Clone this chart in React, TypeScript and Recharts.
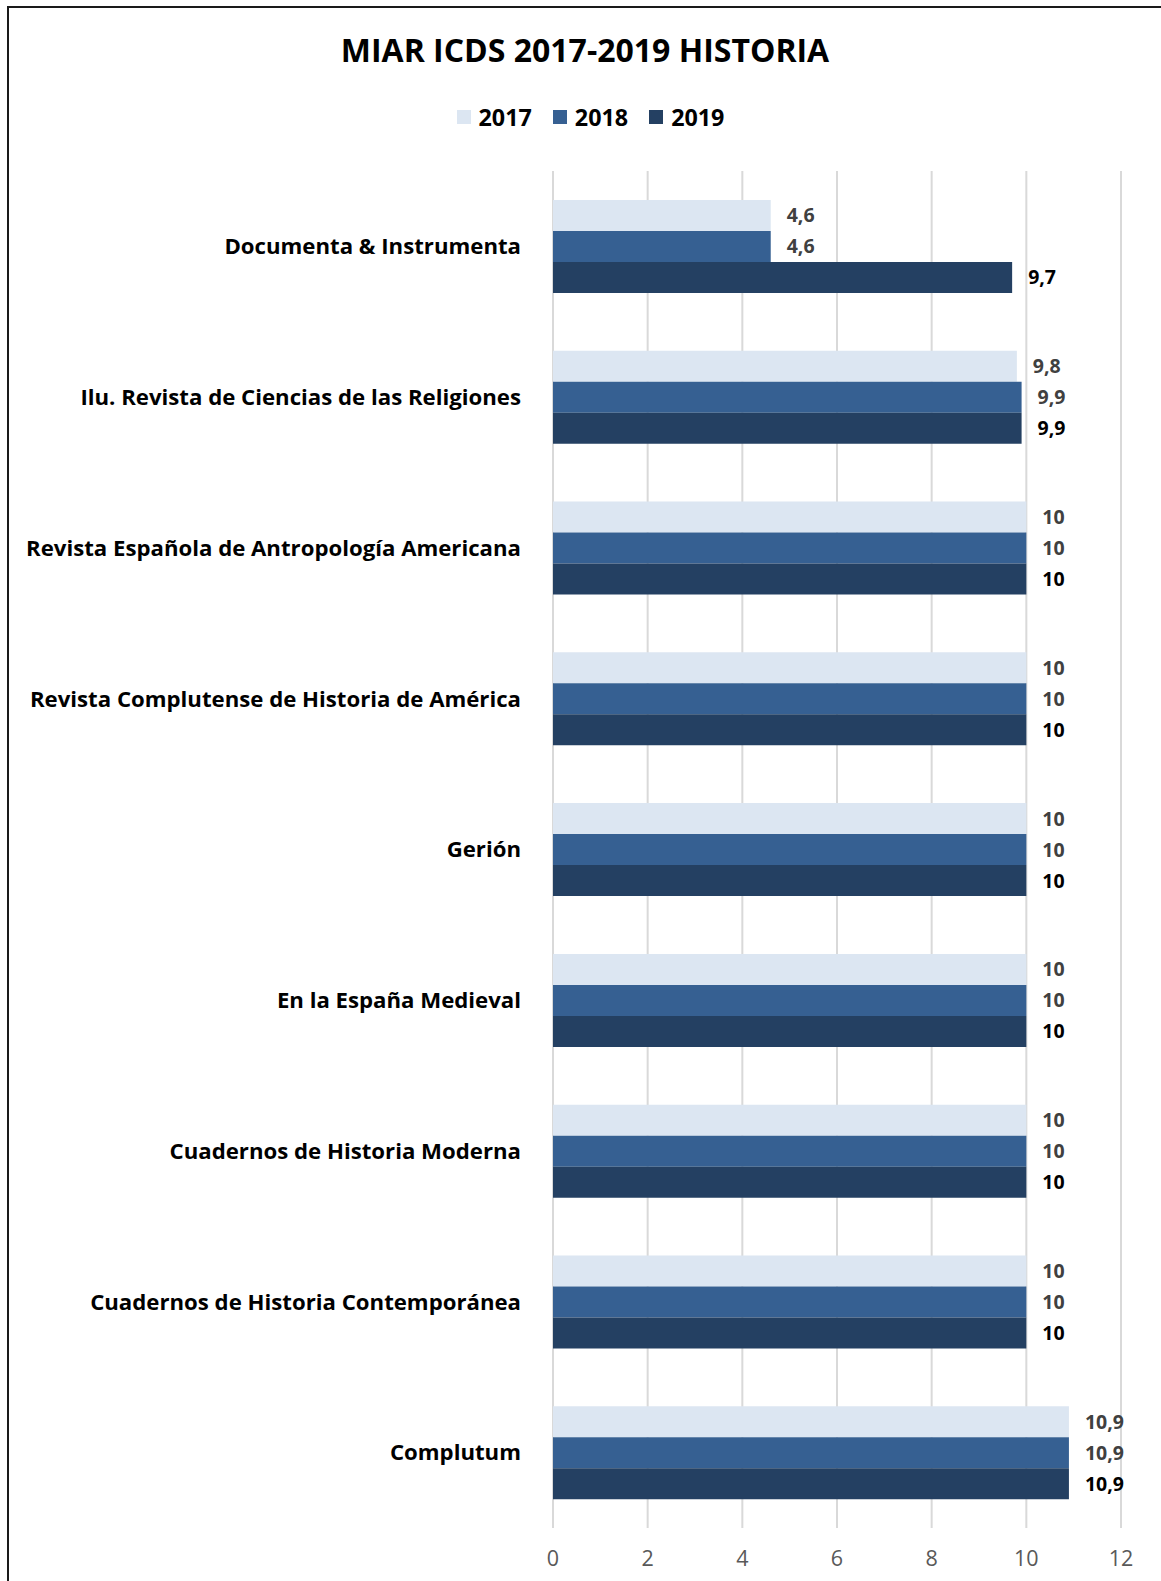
import React from "react";
import { BarChart, Bar, XAxis, YAxis, CartesianGrid, LabelList } from "recharts";

const categories = [
  "Documenta & Instrumenta",
  "Ilu. Revista de Ciencias de las Religiones",
  "Revista Española de Antropología Americana",
  "Revista Complutense de Historia de América",
  "Gerión",
  "En la España Medieval",
  "Cuadernos de Historia Moderna",
  "Cuadernos de Historia Contemporánea",
  "Complutum",
];
const values2017 = [4.6, 9.8, 10, 10, 10, 10, 10, 10, 10.9];
const values2018 = [4.6, 9.9, 10, 10, 10, 10, 10, 10, 10.9];
const values2019 = [9.7, 9.9, 10, 10, 10, 10, 10, 10, 10.9];
const xTicks = [0, 2, 4, 6, 8, 10, 12];
const seriesNames = ["2017", "2018", "2019"];
const colors = ["#DCE6F2", "#366092", "#244062"];
const labelColors = ["#404040", "#404040", "#000000"];

const data = categories.map((name, i) => ({
  name,
  y2017: values2017[i],
  y2018: values2018[i],
  y2019: values2019[i],
}));

const FONT = "'Open Sans', 'Noto Sans', sans-serif";
const fmt = (v: any) => String(v).replace(".", ",");

export default function App() {
  const keys = ["y2017", "y2018", "y2019"];
  return (
    <div style={{ position: "absolute", left: 0, top: 0, width: 1161, height: 1581, background: "#fff", fontFamily: FONT }}>
      <div style={{ position: "absolute", left: 7, top: 6, width: 1154, height: 1575, borderLeft: "2px solid #1a1a1a", borderTop: "2px solid #1a1a1a" }} />
      <div style={{ position: "absolute", left: 0, top: 29, width: 1170, textAlign: "center", fontSize: 32, fontWeight: 700, color: "#000", lineHeight: "42px" }}>
        MIAR ICDS 2017-2019 HISTORIA
      </div>
      <div style={{ position: "absolute", left: 0, top: 103, width: 1181, display: "flex", justifyContent: "center", alignItems: "center", fontSize: 23.3, fontWeight: 700, color: "#000", lineHeight: "28px" }}>
        {seriesNames.map((s, i) => (
          <div key={s} style={{ display: "flex", alignItems: "center", marginLeft: i === 0 ? 0 : 21 }}>
            <div style={{ width: 14, height: 14, background: colors[i], marginRight: 8 }} />
            <span>{s}</span>
          </div>
        ))}
      </div>
      <div style={{ position: "absolute", left: 0, top: 0 }}>
        <BarChart
          width={1161}
          height={1581}
          data={data}
          layout="vertical"
          margin={{ top: 171, right: 40, bottom: 0, left: 0 }}
          barGap={0}
          barSize={31}
        >
          <CartesianGrid horizontal={false} vertical={true} stroke="#d9d9d9" strokeWidth={2} />
          <XAxis
            type="number"
            domain={[0, 12]}
            ticks={xTicks}
            axisLine={false}
            tickLine={false}
            tickSize={0}
            tickMargin={23}
            height={53}
            interval={0}
            tick={{ fill: "#595959", fontSize: 21.5, fontFamily: FONT }}
          />
          <YAxis
            type="category"
            dataKey="name"
            width={553}
            axisLine={false}
            tickLine={false}
            tickSize={0}
            tickMargin={32}
            interval={0}
            tick={{ fill: "#000", fontSize: 22.2, fontWeight: 700, fontFamily: FONT }}
          />
          {keys.map((k, i) => (
            <Bar key={k} dataKey={k} name={seriesNames[i]} fill={colors[i]} isAnimationActive={false}>
              <LabelList
                dataKey={k}
                position="right"
                offset={16}
                formatter={fmt}
                style={{ fill: labelColors[i], fontSize: 19.5, fontWeight: 700, fontFamily: FONT }}
              />
            </Bar>
          ))}
        </BarChart>
      </div>
    </div>
  );
}
